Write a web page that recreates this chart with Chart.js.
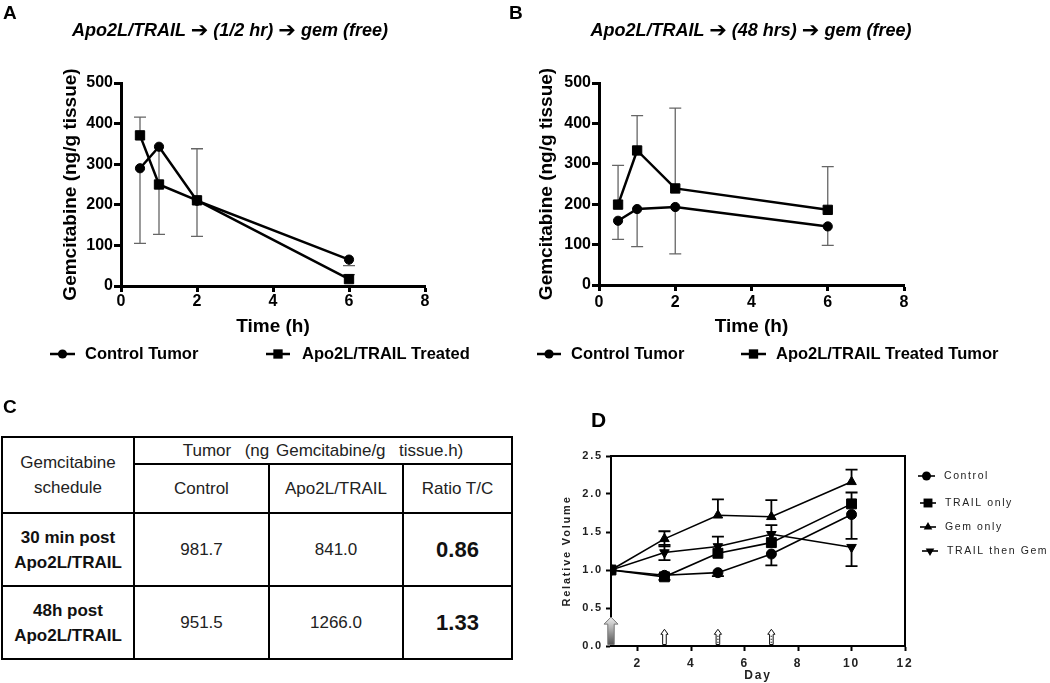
<!DOCTYPE html>
<html><head><meta charset="utf-8">
<script src="https://cdn.jsdelivr.net/npm/chart.js@4.4.1/dist/chart.umd.min.js"></script>
<style>
html,body{margin:0;padding:0;background:#fff;}
body{width:1050px;height:683px;position:relative;overflow:hidden;font-family:'Liberation Sans',Arial,Helvetica,sans-serif;color:#000;}
.abs{position:absolute;}
.letter{font-weight:bold;line-height:1;}
.ptitle{font-weight:bold;font-style:italic;font-size:18px;line-height:18px;text-align:center;white-space:nowrap;width:400px;}
.arr{font-family:'DejaVu Sans',sans-serif;font-style:normal;font-weight:bold;font-size:21px;line-height:18px;vertical-align:-1px;}
table{border-collapse:collapse;table-layout:fixed;}
td{border:2px solid #000;text-align:center;vertical-align:middle;padding:0;font-size:17px;color:#222;line-height:25px;white-space:nowrap;}
td.b{font-weight:bold;color:#111;}
td.r{font-weight:bold;font-size:22px;color:#111;}
</style></head>
<body>
<div class="abs" style="left:0;top:0;width:520px;height:370px"><canvas id="chartA"></canvas></div>
<div class="abs" style="left:520px;top:0;width:530px;height:370px"><canvas id="chartB"></canvas></div>
<div class="abs" style="left:540px;top:430px;width:510px;height:260px"><canvas id="chartD"></canvas></div>

<div class="abs letter" style="left:3px;top:3px;font-size:19px">A</div>
<div class="abs letter" style="left:509px;top:3px;font-size:19px">B</div>
<div class="abs letter" style="left:3px;top:397px;font-size:19px">C</div>
<div class="abs letter" style="left:591px;top:409px;font-size:21px">D</div>

<div class="abs ptitle" id="titleA" style="left:30px;top:21px"></div>
<div class="abs ptitle" id="titleB" style="left:551px;top:21px"></div>

<div class="abs" style="left:1px;top:436px"><table id="tableC"></table></div>

<script>
// ---------------- DATA ----------------
// Panel A : Apo2L/TRAIL -> (1/2 hr) -> gem (free)
const titleA = ['Apo2L/TRAIL', '(1/2 hr)', 'gem (free)'];
const timesA = [0.5, 1, 2, 6];
const aControl = [290, 343, 210, 65];
const aControlLow = [105, 127, 122, 50];
const aControlHigh = [null, null, null, null];
const aTrail = [371, 250, 211, 17];
const aTrailLow = [null, null, null, null];
const aTrailHigh = [416, null, 338, 28];
const labelsA = ['Control Tumor', 'Apo2L/TRAIL Treated'];

// Panel B : Apo2L/TRAIL -> (48 hrs) -> gem (free)
const titleB = ['Apo2L/TRAIL', '(48 hrs)', 'gem (free)'];
const timesB = [0.5, 1, 2, 6];
const bControl = [159, 188, 193, 145];
const bControlLow = [113, 95, 77, 98];
const bControlHigh = [null, null, null, null];
const bTrail = [199, 333, 239, 186];
const bTrailLow = [null, null, null, null];
const bTrailHigh = [296, 419, 438, 293];
const labelsB = ['Control Tumor', 'Apo2L/TRAIL Treated Tumor'];

const timeTicks = [0, 2, 4, 6, 8];
const gemTicks = [0, 100, 200, 300, 400, 500];
const timeTitle = 'Time (h)';
const gemTitle = 'Gemcitabine (ng/g tissue)';

// Panel C : AUC table
const cHeaderLeft = ['Gemcitabine', 'schedule'];
const cHeaderTop = 'Tumor  (ng Gemcitabine/g  tissue.h)';
const cColumns = ['Control', 'Apo2L/TRAIL', 'Ratio T/C'];
const cSchedules = [['30 min post', 'Apo2L/TRAIL'], ['48h post', 'Apo2L/TRAIL']];
const cControl = ['981.7', '951.5'];
const cTrail = ['841.0', '1266.0'];
const cRatio = ['0.86', '1.33'];

// Panel D : relative tumour volume
const days = [1, 3, 5, 7, 10];
const dControl = [1.0, 0.93, 0.965, 1.21, 1.73];
const dControlLow = [null, null, 0.92, 1.06, 1.41];
const dControlHigh = [null, null, null, null, null];
const dTrail = [1.0, 0.91, 1.22, 1.36, 1.87];
const dTrailLow = [null, 0.87, null, null, null];
const dTrailHigh = [null, 0.95, null, null, 2.02];
const dGem = [1.0, 1.41, 1.72, 1.70, 2.16];
const dGemLow = [null, 1.31, null, null, null];
const dGemHigh = [null, 1.51, 1.93, 1.92, 2.32];
const dTrailGem = [1.0, 1.23, 1.31, 1.47, 1.30];
const dTrailGemLow = [null, 1.13, null, null, 1.05];
const dTrailGemHigh = [null, 1.33, 1.44, 1.59, null];
const labelsD = ['Control', 'TRAIL only', 'Gem only', 'TRAIL then Gem'];
const dayTicks = [2, 4, 6, 8, 10, 12];
const volTicks = [0, 0.5, 1.0, 1.5, 2.0, 2.5];
const arrowDays = [1, 3, 5, 7];
const arrowTops = [0.38, 0.22, 0.22, 0.22];

// ---------------- HTML parts ----------------
function setTitle(id, parts) {
  const el = document.getElementById(id);
  el.innerHTML = parts.join(' <span class="arr">\u2794</span> ');
}
setTitle('titleA', titleA);
setTitle('titleB', titleB);
(function buildTable() {
  const t = document.getElementById('tableC');
  const colW = [132, 135, 134, 109];
  let h = '<colgroup>' + colW.map(w => '<col style="width:' + w + 'px">').join('') + '</colgroup>';
  h += '<tr style="height:26px"><td rowspan="2">' + cHeaderLeft.join('<br>') + '</td><td colspan="3" style="white-space:pre;word-spacing:2px">' + cHeaderTop + '</td></tr>';
  h += '<tr style="height:49px">' + cColumns.map(c => '<td>' + c + '</td>').join('') + '</tr>';
  cSchedules.forEach((s, i) => {
    h += '<tr style="height:73px"><td class="b">' + s.join('<br>') + '</td><td>' + cControl[i] + '</td><td>' + cTrail[i] + '</td><td class="r">' + cRatio[i] + '</td></tr>';
  });
  t.innerHTML = h;
})();

// ---------------- Chart helpers ----------------
Chart.defaults.font.family = "'Liberation Sans', Arial, Helvetica, sans-serif";
Chart.defaults.color = '#000';
Chart.defaults.animation = false;

function drawMarker(ctx, style, r, rot, x, y) {
  ctx.beginPath();
  if (style === 'circle') ctx.arc(x, y, r, 0, Math.PI * 2);
  else if (style === 'rect') { const s = Math.SQRT1_2 * r; ctx.rect(x - s, y - s, 2 * s, 2 * s); }
  else {
    let a = (rot || 0) * Math.PI / 180;
    for (let k = 0; k < 3; k++) {
      const px = x + Math.sin(a) * r, py = y - Math.cos(a) * r;
      if (k) ctx.lineTo(px, py); else ctx.moveTo(px, py);
      a += 2 * Math.PI / 3;
    }
    ctx.closePath();
  }
  ctx.fill();
}

const errorBars = {
  id: 'errorBars',
  beforeDatasetsDraw(chart, args, o) {
    const ctx = chart.ctx, xs = chart.scales.x, ys = chart.scales.y;
    ctx.save();
    ctx.strokeStyle = o.color; ctx.lineWidth = o.width;
    chart.data.datasets.forEach(ds => {
      ds.data.forEach((p, i) => {
        const px = xs.getPixelForValue(p.x), py = ys.getPixelForValue(p.y);
        [ds.errLow, ds.errHigh].forEach(arr => {
          if (!arr || arr[i] == null) return;
          const ey = ys.getPixelForValue(arr[i]);
          ctx.beginPath();
          ctx.moveTo(px, py); ctx.lineTo(px, ey);
          ctx.moveTo(px - o.cap, ey); ctx.lineTo(px + o.cap, ey);
          ctx.stroke();
        });
      });
    });
    ctx.restore();
  }
};

const fixedLegend = {
  id: 'fixedLegend',
  afterDraw(chart, args, o) {
    const ctx = chart.ctx;
    ctx.save();
    if (o.letterSpacing) ctx.letterSpacing = o.letterSpacing;
    chart.data.datasets.forEach((ds, i) => {
      const it = o.items[i]; if (!it) return;
      ctx.strokeStyle = '#000'; ctx.fillStyle = '#000'; ctx.lineWidth = o.lineWidth;
      ctx.beginPath(); ctx.moveTo(it.x1, it.y); ctx.lineTo(it.x2, it.y); ctx.stroke();
      drawMarker(ctx, ds.pointStyle, ds.pointRadius * (o.markerScale || 1), ds.pointRotation, (it.x1 + it.x2) / 2, it.y);
      ctx.fillStyle = o.color; ctx.font = o.font; ctx.textBaseline = 'middle'; ctx.textAlign = 'left';
      ctx.fillText(ds.label, it.tx, it.y);
    });
    ctx.restore();
  }
};

const boxFrame = {
  id: 'boxFrame',
  beforeDatasetsDraw(chart, args, o) {
    const {ctx, chartArea: a} = chart;
    ctx.save(); ctx.strokeStyle = '#000'; ctx.lineWidth = o.width;
    ctx.beginPath(); ctx.moveTo(a.left, a.top); ctx.lineTo(a.right, a.top); ctx.lineTo(a.right, a.bottom); ctx.stroke();
    ctx.restore();
  }
};

const dosingArrows = {
  id: 'dosingArrows',
  afterDatasetsDraw(chart, args, o) {
    const ctx = chart.ctx, xs = chart.scales.x, ys = chart.scales.y;
    ctx.save();
    o.days.forEach((d, i) => {
      const cx = xs.getPixelForValue(d);
      const yb = ys.getPixelForValue(0) - 1.5, yt = ys.getPixelForValue(o.tops[i]);
      const big = i === 0;
      const hw = big ? 7 : 3.6, bw = big ? 3.2 : 1.8, hh = big ? 7 : 5;
      ctx.beginPath();
      ctx.moveTo(cx, yt); ctx.lineTo(cx + hw, yt + hh); ctx.lineTo(cx + bw, yt + hh); ctx.lineTo(cx + bw, yb);
      ctx.lineTo(cx - bw, yb); ctx.lineTo(cx - bw, yt + hh); ctx.lineTo(cx - hw, yt + hh); ctx.closePath();
      if (big) {
        const g = ctx.createLinearGradient(0, yt, 0, yb);
        g.addColorStop(0, '#f0f0f0'); g.addColorStop(1, '#555');
        ctx.fillStyle = g; ctx.strokeStyle = '#777'; ctx.lineWidth = 1;
      } else {
        ctx.fillStyle = '#fff'; ctx.strokeStyle = '#111'; ctx.lineWidth = 1;
      }
      ctx.fill(); ctx.stroke();
      if (!big && i > 1) {
        ctx.beginPath(); ctx.strokeStyle = '#333';
        for (let yy = yt + hh + 2; yy < yb - 1; yy += 3) { ctx.moveTo(cx - 0.8, yy); ctx.lineTo(cx + 0.8, yy); }
        ctx.stroke();
      }
    });
    ctx.restore();
  }
};

const letterSpacingD = {
  id: 'letterSpacingD',
  beforeDraw(chart) { chart.ctx.letterSpacing = '1.8px'; }
};

function axis(c) {
  return {
    type: 'linear', min: c.min, max: c.max,
    afterBuildTicks: s => { s.ticks = c.ticks.map(v => ({value: v})); },
    afterFit: s => { if (c.width != null) s.width = c.width; if (c.height != null) s.height = c.height; },
    grid: {display: true, drawOnChartArea: false, drawTicks: true, tickLength: c.tickLen, tickWidth: c.tickW, tickColor: '#000', color: '#000'},
    border: {display: true, width: c.borderW, color: '#000'},
    ticks: {font: {size: c.fontSize, weight: 'bold'}, padding: c.pad, color: c.color || '#000', callback: c.fmt || (v => String(v))},
    title: {display: true, text: c.title, font: {size: c.titleSize, weight: 'bold'}, padding: c.titlePad, color: c.color || '#000'}
  };
}

function ds(label, xs, ys, low, high, style, r, rot, lw) {
  return {
    label, data: xs.map((x, i) => ({x, y: ys[i]})), errLow: low, errHigh: high,
    pointStyle: style, pointRadius: r, pointHoverRadius: r, pointRotation: rot || 0,
    borderColor: '#000', backgroundColor: '#000', pointBackgroundColor: '#000', pointBorderColor: '#000',
    pointBorderWidth: 1, borderWidth: lw, tension: 0, fill: false
  };
}

function pkChart(id, times, ctl, ctlLow, ctlHigh, trl, trlLow, trlHigh, labels, pad, yWidth, yTitlePad, legendItems) {
  return new Chart(document.getElementById(id), {
    type: 'line',
    data: {datasets: [
      ds(labels[0], times, ctl, ctlLow, ctlHigh, 'circle', 4.6, 0, 2.5),
      ds(labels[1], times, trl, trlLow, trlHigh, 'rect', 6.6, 0, 2.5)
    ]},
    options: {
      responsive: true, maintainAspectRatio: false, animation: false,
      layout: {padding: pad},
      events: [],
      scales: {
        x: axis({min: 0, max: 8, ticks: timeTicks, height: pad.xh, tickLen: 6, tickW: 3, borderW: 3, fontSize: 16, pad: pad.tp,
                 title: timeTitle, titleSize: 19, titlePad: {top: 0, bottom: 7.6}}),
        y: axis({min: 0, max: 500, ticks: gemTicks, width: yWidth, tickLen: 7, tickW: 3, borderW: 3, fontSize: 16, pad: 1,
                 title: gemTitle, titleSize: 19, titlePad: {top: yTitlePad, bottom: 0}})
      },
      plugins: {
        legend: {display: false}, tooltip: {enabled: false},
        errorBars: {color: '#666', width: 1.3, cap: 6},
        fixedLegend: {items: legendItems, font: "bold 16.5px 'Liberation Sans', Arial, sans-serif", color: '#000', lineWidth: 2.5}
      }
    },
    plugins: [errorBars, fixedLegend]
  });
}

pkChart('chartA', timesA, aControl, aControlLow, aControlHigh, aTrail, aTrailLow, aTrailHigh, labelsA,
  {left: 50, right: 95, top: 83, bottom: 24, xh: 60, tp: 0}, 71, 9.6,
  [{x1: 50, x2: 75, tx: 85, y: 354}, {x1: 266, x2: 290, tx: 302, y: 354}]);

pkChart('chartB', timesB, bControl, bControlLow, bControlHigh, bTrail, bTrailLow, bTrailHigh, labelsB,
  {left: 10, right: 146, top: 83, bottom: 24, xh: 61, tp: 2}, 69, 5.6,
  [{x1: 17, x2: 41, tx: 51, y: 354}, {x1: 221, x2: 246, tx: 256, y: 354}]);

new Chart(document.getElementById('chartD'), {
  type: 'line',
  data: {datasets: [
    ds(labelsD[0], days, dControl, dControlLow, dControlHigh, 'circle', 5, 0, 1.6),
    ds(labelsD[1], days, dTrail, dTrailLow, dTrailHigh, 'rect', 7, 0, 1.6),
    ds(labelsD[2], days, dGem, dGemLow, dGemHigh, 'triangle', 5.5, 0, 1.6),
    ds(labelsD[3], days, dTrailGem, dTrailGemLow, dTrailGemHigh, 'triangle', 5.5, 180, 1.6)
  ]},
  options: {
    responsive: true, maintainAspectRatio: false, animation: false, events: [],
    layout: {padding: {left: 10, right: 145, top: 26, bottom: 0}},
    scales: {
      x: axis({min: 1, max: 12, ticks: dayTicks, height: 44, tickLen: 5, tickW: 2, borderW: 2, fontSize: 12, pad: 5,
               title: 'Day', titleSize: 12, titlePad: {top: 0, bottom: 6.8}, color: '#222'}),
      y: axis({min: 0, max: 2.5, ticks: volTicks, width: 61, tickLen: 5, tickW: 2, borderW: 2, fontSize: 11, pad: 3,
               title: 'Relative Volume', titleSize: 11, titlePad: {top: 10.4, bottom: 0}, color: '#222', fmt: v => v.toFixed(1)})
    },
    plugins: {
      legend: {display: false}, tooltip: {enabled: false},
      errorBars: {color: '#000', width: 1.8, cap: 6},
      boxFrame: {width: 2},
      dosingArrows: {days: arrowDays, tops: arrowTops},
      fixedLegend: {items: [{x1: 378, x2: 395, tx: 404, y: 46}, {x1: 380, x2: 396, tx: 405, y: 73},
                            {x1: 380, x2: 396, tx: 405, y: 97}, {x1: 382, x2: 398, tx: 407, y: 121}],
                    font: "10.5px 'Liberation Sans', Arial, sans-serif", color: '#222', lineWidth: 1.6, letterSpacing: '1.6px', markerScale: 0.9}
    }
  },
  plugins: [letterSpacingD, boxFrame, errorBars, dosingArrows, fixedLegend]
});
</script>
</body></html>
